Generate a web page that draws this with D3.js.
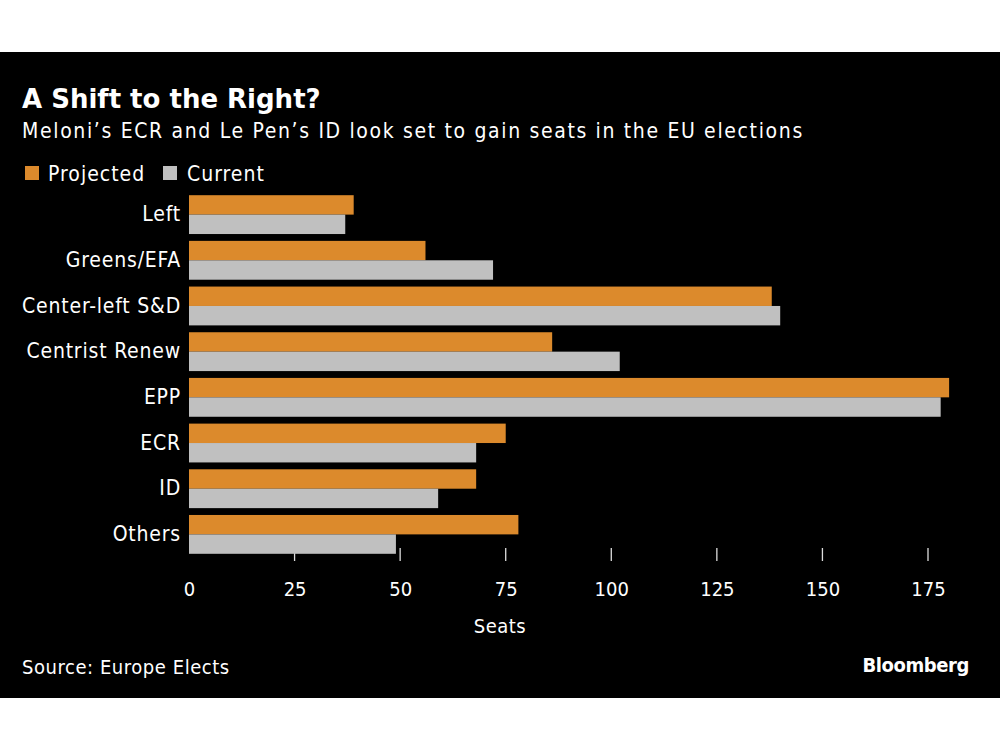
<!DOCTYPE html>
<html><head><meta charset="utf-8">
<script src="https://cdn.jsdelivr.net/npm/d3@7"></script>
<style>body{margin:0;background:#fff}svg{display:block}</style>
</head><body>
<script>
const categories = ["Left","Greens/EFA","Center-left S&D","Centrist Renew","EPP","ECR","ID","Others"];
const projected = [39,56,138,86,180,75,68,78];
const current = [37,72,140,102,178,68,59,49];
const tickValues = [0,25,50,75,100,125,150,175];
const seriesNames = ["Projected","Current"];

const W=1000,H=750;
const svg=d3.select("body").append("svg").attr("width",W).attr("height",H);
svg.append("rect").attr("x",0).attr("y",52).attr("width",W).attr("height",646).attr("fill","#000");
const font='"DejaVu Sans Condensed","DejaVu Sans",sans-serif';
const colors={Projected:"#dc8a2c",Current:"#c0c0c0"};

const x=d3.scaleLinear().domain([0,175]).range([189,928]);
const y=d3.scaleBand().domain(categories).range([192,557]).paddingInner(0.15).paddingOuter(0.07);
const inner=d3.scaleBand().domain(seriesNames).range([0,y.bandwidth()]);

svg.append("text").attr("x",22).attr("y",108).attr("fill","#fff").attr("font-family",'"DejaVu Sans",sans-serif').attr("font-weight","bold").attr("font-size",26).text("A Shift to the Right?");
svg.append("text").attr("x",22).attr("y",138).attr("fill","#fff").attr("font-family",font).attr("font-size",21).attr("letter-spacing",1.65).text("Meloni’s ECR and Le Pen’s ID look set to gain seats in the EU elections");

// legend
const leg=svg.append("g");
[["Projected",25,48],["Current",163,187]].forEach(([n,sx,tx])=>{
  leg.append("rect").attr("x",sx).attr("y",166).attr("width",14).attr("height",14).attr("fill",colors[n]);
  leg.append("text").attr("x",tx).attr("y",181).attr("fill","#fff").attr("font-family",font).attr("font-size",21).attr("letter-spacing",1).text(n);
});

// ticks (x axis)
const axis=d3.axisBottom(x).tickValues(tickValues).tickSize(0).tickPadding(0);
const ag=svg.append("g").attr("transform","translate(0,596)").call(axis);
ag.select(".domain").remove();
ag.selectAll("text").attr("fill","#fff").attr("font-family",font).attr("font-size",20).attr("dy",0);
svg.append("g").selectAll("line").data(tickValues.filter(d=>d>0)).join("line")
  .attr("x1",d=>x(d)).attr("x2",d=>x(d)).attr("y1",548).attr("y2",561).attr("stroke","#ddd").attr("stroke-width",1.3);

// bars
const rows=categories.map((c,i)=>({c,vals:[{s:"Projected",v:projected[i]},{s:"Current",v:current[i]}]}));
const g=svg.append("g");
rows.forEach(r=>{
  g.selectAll(null).data(r.vals).join("rect")
   .attr("x",x(0)).attr("y",d=>y(r.c)+inner(d.s)).attr("height",inner.bandwidth())
   .attr("width",d=>x(d.v)-x(0)).attr("fill",d=>colors[d.s]);
});

// y labels
const yl=d3.axisLeft(y).tickSize(0).tickPadding(0);
const yg=svg.append("g").attr("transform","translate(181,0)").call(yl);
yg.select(".domain").remove();
yg.selectAll("text").attr("fill","#fff").attr("font-family",font).attr("font-size",21).attr("letter-spacing",0.8);

svg.append("text").attr("x",500).attr("y",633).attr("text-anchor","middle").attr("fill","#fff").attr("font-family",font).attr("font-size",20).attr("letter-spacing",0.5).text("Seats");
svg.append("text").attr("x",22).attr("y",674).attr("fill","#fff").attr("font-family",font).attr("font-size",20).attr("letter-spacing",0.55).text("Source: Europe Elects");
svg.append("text").attr("x",969).attr("y",672).attr("text-anchor","end").attr("fill","#fff").attr("font-family",font).attr("font-weight","bold").attr("font-size",20).attr("letter-spacing",-0.4).text("Bloomberg");
</script>
</body></html>
